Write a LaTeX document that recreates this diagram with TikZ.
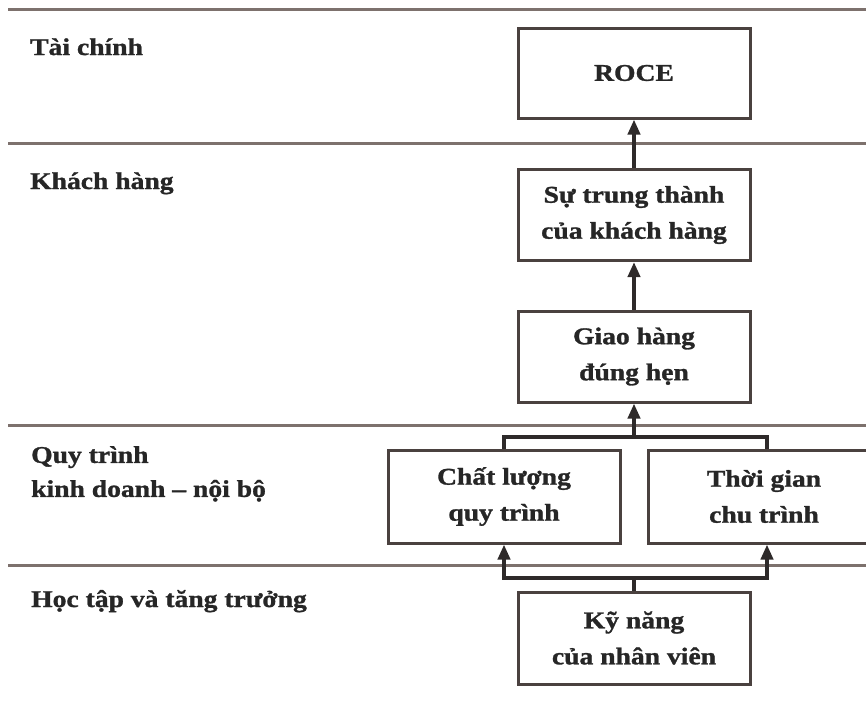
\documentclass[tikz,border=0pt]{standalone}
\usepackage{fontspec}
\setmainfont{Liberation Serif}[FakeStretch=1.15, BoldFeatures={FakeBold=1.2}]
\usetikzlibrary{arrows.meta}
\definecolor{rulecol}{HTML}{7D716D}
\definecolor{boxcol}{HTML}{4A413F}
\definecolor{linkcol}{HTML}{2E2A2A}
\definecolor{txtcol}{HTML}{262626}
\begin{document}
\begin{tikzpicture}[x=1pt,y=-1pt,
  lanerule/.style={draw=rulecol, line width=3pt},
  lanetitle/.style={anchor=base west, align=left, text=txtcol,
    font=\bfseries\fontsize{24}{34}\selectfont, inner sep=0pt},
  card/.style={draw=boxcol, line width=3pt, fill=white,
    minimum width=232pt, minimum height=91pt, align=center, text=txtcol,
    font=\bfseries\fontsize{24}{36}\selectfont, inner sep=0pt},
  bar/.style={draw=linkcol, line width=4.5pt},
  link/.style={bar, -{Triangle[length=15pt,width=12pt]}}]
\useasboundingbox (0,0) rectangle (866,704);
\clip (0,0) rectangle (866,704);

% lane separators
\draw[lanerule] (8,9) -- (866,9);
\draw[lanerule] (8,143) -- (866,143);
\draw[lanerule] (8,425) -- (866,425);
\draw[lanerule] (8,565) -- (866,565);

% lane titles
\node[lanetitle] (tfin) at (30,55) {Tài chính};
\node[lanetitle] (tcus) at (30,189) {Khách hàng};
\node[lanetitle, anchor=north west] (tint) at (31,446) {Quy trình\\kinh doanh – nội bộ};
\node[lanetitle] (tlrn) at (31,607) {Học tập và tăng trưởng};

% measures
\node[card, minimum height=90pt] (roce) at (634,73) {ROCE};
\node[card] (loyal) at (634,215) {Sự trung thành\\của khách hàng};
\node[card] (deliv) at (634,356.5) {Giao hàng\\đúng hẹn};
\node[card, minimum height=93pt] (qual) at (504,496.5) {Chất lượng\\quy trình};
\node[card, minimum height=93pt] (cycle) at (764,496.5) {Thời gian\\chu trình};
\node[card, minimum height=92pt] (skill) at (634,638) {Kỹ năng\\của nhân viên};

% cause-and-effect links
\draw[link] (loyal.north) -- (roce.south);
\draw[link] (deliv.north) -- (loyal.south);

\coordinate (upj) at (634,437);
\draw[bar] (qual.north) |- (upj) -| ([xshift=3pt]cycle.north);
\draw[link] (upj) -- (deliv.south);

\coordinate (lowj) at (634,578);
\draw[bar] (skill.north) -- (lowj);
\draw[link] (lowj) -| (qual.south);
\draw[link] (lowj) -| ([xshift=3pt]cycle.south);
\end{tikzpicture}
\end{document}
